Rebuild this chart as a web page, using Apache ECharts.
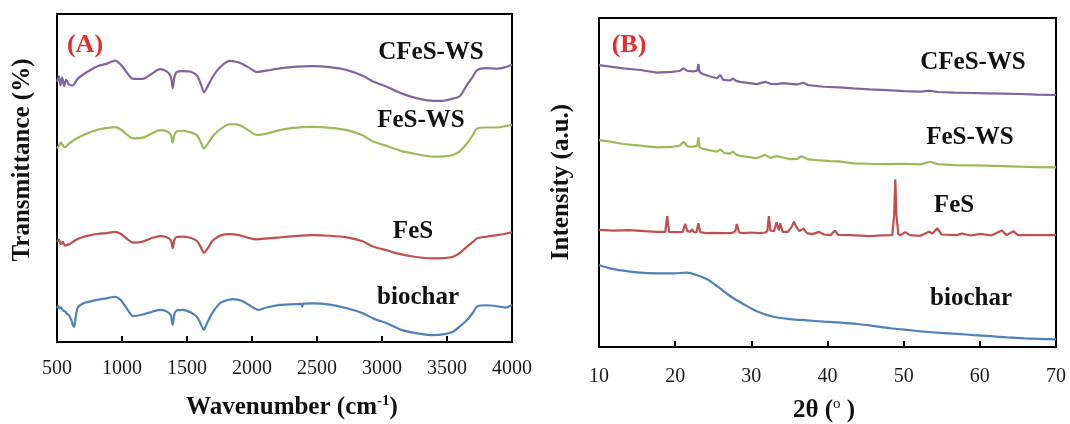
<!DOCTYPE html>
<html>
<head>
<meta charset="utf-8">
<script src="https://cdn.jsdelivr.net/npm/echarts@6/dist/echarts.min.js"></script>
<style>
html,body{margin:0;padding:0;background:#fff;}
#c{width:1070px;height:424px;}
</style>
</head>
<body>
<div id="c"></div>
<script>
// ---------- Panel A: FTIR (wavenumber, offset transmittance) ----------
const ftirTicks = [500, 1000, 1500, 2000, 2500, 3000, 3500, 4000];
const ftirCFeSWS = [[500,79.4],[515,81.0],[527,78.3],[540,80.6],[555,78.0],[570,80.0],[590,78.6],[620,78.2],[660,80.3],[700,81.5],[760,83.0],[820,84.2],[880,84.8],[946,85.8],[990,84.6],[1040,82.0],[1085,80.2],[1160,80.2],[1230,81.8],[1292,83.2],[1340,82.6],[1375,81.0],[1390,77.4],[1402,80.5],[1420,82.3],[1469,82.6],[1530,82.4],[1577,81.2],[1605,78.8],[1631,76.2],[1660,78.0],[1700,81.0],[1760,84.0],[1831,85.7],[1900,85.2],[1970,83.8],[2038,82.3],[2120,82.8],[2215,83.4],[2300,83.8],[2469,84.1],[2600,83.8],[2731,82.9],[2850,81.2],[2931,79.4],[3050,77.6],[3150,75.8],[3250,74.5],[3392,73.5],[3480,73.6],[3546,74.2],[3600,75.0],[3654,78.4],[3700,81.0],[3731,82.9],[3800,83.5],[3885,83.3],[3950,83.8],[4000,84.5]];
const ftirFeSWS = [[500,59.0],[515,59.8],[530,60.9],[545,59.9],[560,59.3],[590,60.4],[640,61.8],[700,63.0],[760,64.0],[820,64.8],[880,65.2],[946,65.5],[990,64.8],[1040,63.2],[1085,62.1],[1160,62.3],[1230,63.6],[1292,64.6],[1340,64.3],[1375,63.2],[1390,60.8],[1402,63.0],[1420,64.2],[1469,64.4],[1530,63.9],[1577,63.0],[1605,61.0],[1631,59.0],[1660,60.5],[1700,62.8],[1760,65.0],[1831,66.4],[1900,66.2],[1970,64.6],[2038,63.1],[2120,63.6],[2215,64.6],[2300,65.2],[2469,65.6],[2600,65.3],[2731,64.6],[2850,63.0],[2931,61.1],[3050,59.6],[3150,58.2],[3250,57.4],[3392,56.5],[3480,56.6],[3546,57.0],[3600,58.2],[3654,60.6],[3700,63.2],[3731,65.1],[3800,65.4],[3885,65.4],[3950,65.8],[4000,66.2]];
const ftirFeS = [[500,30.6],[515,31.2],[530,29.8],[545,30.5],[560,29.4],[580,29.6],[600,29.9],[640,31.0],[700,32.0],[760,32.6],[820,33.0],[880,33.2],[946,33.6],[990,33.0],[1040,31.4],[1085,30.3],[1160,30.6],[1230,31.7],[1292,32.3],[1340,32.0],[1375,31.0],[1390,28.6],[1402,31.0],[1420,32.0],[1469,32.1],[1530,31.7],[1577,30.8],[1605,29.0],[1631,27.2],[1660,28.6],[1700,31.0],[1760,32.5],[1831,32.9],[1900,32.6],[1970,31.8],[2038,31.3],[2120,31.6],[2215,31.9],[2300,32.2],[2469,32.6],[2600,32.4],[2731,31.9],[2850,30.7],[2931,29.1],[3050,27.8],[3115,27.0],[3250,26.0],[3392,25.5],[3480,25.6],[3546,26.0],[3600,27.2],[3654,29.1],[3700,30.5],[3731,31.6],[3800,32.1],[3885,32.6],[3950,33.0],[4000,33.4]];
const ftirBiochar = [[500,10.3],[510,11.0],[520,10.2],[530,10.6],[545,9.6],[560,9.4],[575,8.7],[595,8.0],[612,6.5],[625,4.9],[632,4.6],[642,7.0],[660,10.5],[703,11.8],[760,12.4],[820,12.9],[880,13.3],[946,13.8],[990,12.8],[1040,10.0],[1085,7.9],[1160,8.4],[1230,9.2],[1292,9.8],[1340,9.4],[1375,8.2],[1390,5.2],[1402,8.4],[1420,9.6],[1469,9.8],[1530,9.0],[1577,7.6],[1605,5.6],[1628,3.7],[1655,5.8],[1700,9.2],[1760,12.0],[1857,13.1],[1920,12.6],[1980,11.2],[2048,9.8],[2120,10.6],[2215,11.3],[2300,11.5],[2380,11.6],[2387,10.8],[2394,11.7],[2469,11.8],[2600,11.4],[2731,10.3],[2850,8.8],[2931,7.2],[3050,5.5],[3150,3.7],[3250,2.8],[3392,2.1],[3480,2.4],[3546,3.1],[3600,4.8],[3654,6.7],[3700,9.0],[3731,10.8],[3800,11.2],[3885,10.9],[3950,10.5],[4000,11.3]];

// ---------- Panel B: XRD (2theta, offset intensity) ----------
const xrdTicks = [10, 20, 30, 40, 50, 60, 70];
const xrdCFeSWS = [[10,85.7],[11.5,85.2],[13.2,84.7],[15.4,84.2],[17.6,83.4],[19.5,83.6],[20.6,83.9],[21.1,84.7],[21.6,83.9],[22.5,83.8],[22.9,84.0],[23.05,86.0],[23.2,83.6],[23.6,83.0],[24.5,82.3],[25.5,81.7],[25.9,82.7],[26.3,81.2],[27.2,81.0],[27.6,81.6],[28.0,80.9],[28.5,80.6],[29.5,80.3],[30.7,79.9],[31.8,80.6],[32.5,80.0],[33.3,79.9],[34.2,80.2],[35.1,80.0],[36.0,79.8],[36.8,80.3],[37.5,79.6],[39.5,79.1],[41.5,78.9],[43.4,78.6],[45.5,78.3],[47.8,78.1],[50,77.8],[52.2,77.6],[53.5,77.9],[54.5,77.5],[56.6,77.3],[59,77.2],[60.9,77.1],[63,77.0],[65.3,76.9],[67.5,76.7],[70,76.6]];
const xrdFeSWS = [[10,62.9],[11.5,62.4],[13.2,61.7],[15.4,61.2],[17.6,60.7],[19.5,60.8],[20.6,61.2],[21.1,62.4],[21.6,61.0],[22.5,60.9],[22.9,61.2],[23.05,63.7],[23.2,60.8],[23.6,60.3],[24.5,59.8],[25.5,59.4],[25.9,60.1],[26.5,58.9],[27.2,58.8],[27.6,59.4],[28.0,58.5],[28.5,58.1],[29.5,57.8],[30.7,57.4],[31.8,58.4],[32.5,57.5],[33.3,58.0],[34.1,57.6],[35.1,57.1],[36.0,57.2],[36.6,58.0],[37.5,57.0],[38.6,56.8],[40.4,56.5],[41.5,56.4],[43.4,55.8],[45.5,55.7],[47.8,55.6],[50,55.7],[52.2,55.5],[53.5,56.3],[54.5,55.6],[56.6,55.3],[59,55.2],[60.9,55.1],[63,55.0],[65.3,54.8],[67.5,54.7],[70,54.6]];
const xrdFeS = [[10,35.6],[12,35.4],[14,35.5],[16,35.2],[17.6,35.0],[18.7,35.0],[18.95,39.8],[19.2,35.0],[20,34.9],[21.0,35.0],[21.3,37.4],[21.6,35.2],[22.0,35.0],[22.2,35.8],[22.5,34.8],[22.8,34.9],[23.05,37.6],[23.3,34.9],[24,34.6],[25,34.7],[26.3,34.6],[27.5,34.7],[27.9,35.2],[28.1,37.4],[28.4,34.8],[29,34.6],[30,34.8],[31,34.6],[31.8,34.8],[32.1,35.2],[32.3,39.8],[32.5,35.4],[33.0,35.3],[33.3,37.9],[33.6,35.5],[33.8,37.6],[34.1,35.0],[34.8,35.0],[35.3,36.5],[35.6,38.1],[35.9,36.5],[36.3,35.2],[36.8,36.0],[37.3,34.6],[38,34.3],[38.9,35.0],[39.5,34.2],[40.4,34.0],[41.0,35.4],[41.4,34.1],[43,34.0],[45.6,33.7],[47,33.9],[48.5,34.0],[48.75,40.0],[48.9,51.0],[49.05,40.0],[49.3,34.3],[49.6,34.0],[50.2,34.9],[50.8,34.0],[52.2,33.8],[53.3,35.0],[53.8,34.5],[54.4,36.1],[55,34.2],[57,34.0],[57.6,34.5],[58.8,33.9],[60.1,34.4],[61.5,33.9],[62.9,35.4],[63.5,34.0],[64.4,35.2],[65,34.0],[67,34.0],[70,34.0]];
const xrdBiochar = [[10,24.9],[11.4,23.9],[13.2,23.2],[15.4,22.6],[17.6,22.4],[19.8,22.4],[21.5,22.6],[22.8,21.9],[24.2,20.6],[25.5,18.5],[27.2,15.5],[29.0,13.0],[30.7,10.9],[32.9,9.2],[35.1,8.5],[37.3,8.1],[39.5,7.7],[41.7,7.4],[43.9,7.0],[46,6.4],[48.2,5.7],[50.4,5.2],[52.6,4.7],[54.8,4.3],[57.0,4.0],[59.2,3.6],[61.4,3.3],[63.6,2.9],[65.8,2.6],[70,2.3]];

const seriesNames = ['CFeS-WS', 'FeS-WS', 'FeS', 'biochar'];
const colors = ['#8064A2', '#9BBB59', '#C0504D', '#4F81BD'];

const SERIF = 'Liberation Serif';
const chart = echarts.init(document.getElementById('c'), null, {renderer: 'canvas'});

function xAxisCfg(gridIndex, min, max, interval, margin) {
  return {
    type: 'value', gridIndex, min, max, interval,
    axisLine: {show: true, onZero: false, lineStyle: {color: '#000', width: 2}},
    axisTick: {show: true, inside: true, length: 6, lineStyle: {color: '#000', width: 2}},
    axisLabel: {color: '#1a1a1a', fontFamily: SERIF, fontSize: 20, margin: margin, showMinLabel: true, showMaxLabel: true,
      formatter: v => String(v)},
    splitLine: {show: false}
  };
}
function yAxisCfg(gridIndex) {
  return {
    type: 'value', gridIndex, min: 0, max: 100,
    axisLine: {show: true, lineStyle: {color: '#000', width: 2}},
    axisTick: {show: false}, axisLabel: {show: false}, splitLine: {show: false}
  };
}
function mk(name, data, idx, axisIdx, smooth) {
  return {
    name, type: 'line', data, xAxisIndex: axisIdx, yAxisIndex: axisIdx,
    showSymbol: false, symbol: 'none', smooth: smooth || false,
    lineStyle: {color: colors[idx], width: 2.2}, itemStyle: {color: colors[idx]},
    animation: false
  };
}
function label(text, x, y, size, color) {
  return {type: 'text', x, y, style: {text, fontFamily: SERIF, fontWeight: 'bold', fontSize: size, fill: color || '#111', textAlign: 'center', textVerticalAlign: 'middle'}};
}

const option = {
  animation: false,
  backgroundColor: '#fff',
  grid: [
    {left: 57, top: 14, width: 455, height: 328, show: true, borderColor: '#000', borderWidth: 2, backgroundColor: 'transparent'},
    {left: 599, top: 18, width: 457, height: 329, show: true, borderColor: '#000', borderWidth: 2, backgroundColor: 'transparent'}
  ],
  xAxis: [xAxisCfg(0, 500, 4000, 500, 17), xAxisCfg(1, 10, 70, 10, 20)],
  yAxis: [yAxisCfg(0), yAxisCfg(1)],
  series: [
    mk(seriesNames[0], ftirCFeSWS, 0, 0, 0.25),
    mk(seriesNames[1], ftirFeSWS, 1, 0, 0.25),
    mk(seriesNames[2], ftirFeS, 2, 0, 0.25),
    mk(seriesNames[3], ftirBiochar, 3, 0, 0.25),
    mk(seriesNames[0], xrdCFeSWS, 0, 1),
    mk(seriesNames[1], xrdFeSWS, 1, 1),
    mk(seriesNames[2], xrdFeS, 2, 1),
    mk(seriesNames[3], xrdBiochar, 3, 1, 0.3)
  ],
  graphic: [
    label('(A)', 85, 45, 26, '#EB2A2A'),
    label('(B)', 629, 45, 26, '#EB2A2A'),
    label(seriesNames[0], 431, 53, 25),
    label(seriesNames[1], 421, 121, 25),
    label(seriesNames[2], 413, 232, 25),
    label(seriesNames[3], 418, 298, 25),
    label(seriesNames[0], 973, 63, 25),
    label(seriesNames[1], 970, 138, 25),
    label(seriesNames[2], 954, 206, 25),
    label(seriesNames[3], 971, 299, 25),
    {type: 'text', x: 23, y: 160, rotation: Math.PI / 2,
      style: {text: 'Transmittance (%)', fontFamily: SERIF, fontWeight: 'bold', fontSize: 25, fill: '#111', textAlign: 'center', textVerticalAlign: 'middle'}},
    {type: 'text', x: 562, y: 182, rotation: Math.PI / 2,
      style: {text: 'Intensity (a.u.)', fontFamily: SERIF, fontWeight: 'bold', fontSize: 25, fill: '#111', textAlign: 'center', textVerticalAlign: 'middle'}},
    {type: 'text', x: 292, y: 408,
      style: {text: '{a|Wavenumber (cm}{s|-1}{a|)}', textAlign: 'center', textVerticalAlign: 'middle',
        rich: {a: {fontFamily: SERIF, fontWeight: 'bold', fontSize: 25, fill: '#111', lineHeight: 28},
               s: {fontFamily: SERIF, fontWeight: 'bold', fontSize: 15, fill: '#111', verticalAlign: 'top', lineHeight: 16}}}},
    {type: 'text', x: 824, y: 411,
      style: {text: '{a|2θ (}{s|o}{a| )}', textAlign: 'center', textVerticalAlign: 'middle',
        rich: {a: {fontFamily: SERIF, fontWeight: 'bold', fontSize: 25, fill: '#111', lineHeight: 28},
               s: {fontFamily: SERIF, fontWeight: 'normal', fontSize: 15, fill: '#111', verticalAlign: 'top', lineHeight: 16}}}}
  ]
};
chart.setOption(option);
</script>
</body>
</html>
